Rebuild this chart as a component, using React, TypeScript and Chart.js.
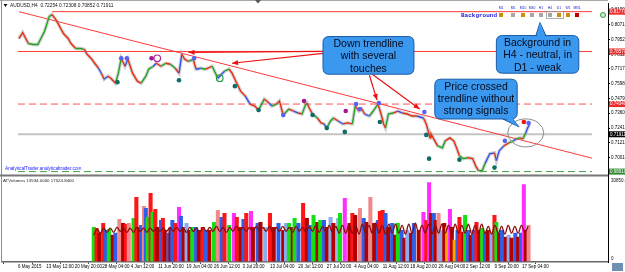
import React, { useEffect, useRef } from "react";
import { Chart, registerables } from "chart.js";

Chart.register(...registerables);

const FONT = "'Liberation Sans', Arial, sans-serif";

// ---------------- axis ticks ----------------
const xTickBars = [0, 30, 60, 89, 119, 148, 178, 207, 237, 266, 296, 326, 355, 385, 414, 444, 473, 503, 532];
const xTickLabels = [
  "6 May 2015", "13 May 12:00", "20 May 20:00", "28 May 04:00", "4 Jun 12:00", "11 Jun 20:00",
  "19 Jun 04:00", "26 Jun 12:00", "3 Jul 20:00", "13 Jul 04:00", "20 Jul 12:00", "27 Jul 20:00",
  "4 Aug 04:00", "11 Aug 12:00", "18 Aug 20:00", "26 Aug 04:00", "2 Sep 12:00", "9 Sep 20:00", "17 Sep 04:00",
];
const priceTicks = [0.81905, 0.80712, 0.7952, 0.78325, 0.7717, 0.7598, 0.7479, 0.736, 0.7241, 0.7121, 0.7001];

// ---------------- price path (bar index, price) ----------------
const priceBars = [
  1, 5, 11, 16, 21, 28, 33, 36, 40, 43,
  48, 53, 56, 61, 66, 70, 73, 78, 81, 85,
  88, 91, 95, 98, 103, 106, 109, 113, 116, 121,
  126, 130, 135, 138, 143, 146, 151, 156, 161, 166,
  170, 173, 176, 180, 185, 188, 193, 198, 205, 211,
  218, 223, 226, 230, 235, 240, 245, 250, 254, 260,
  265, 268, 273, 276, 280, 286, 291, 296, 300, 303,
  305, 308, 311, 316, 320, 323, 326, 330, 333, 338,
  343, 348, 353, 356, 360, 363, 366, 371, 375, 380,
  383, 386, 388, 391, 396, 401, 406, 411, 416, 421,
  428, 431, 435, 436, 440, 443, 448, 451, 456, 460,
  463, 466, 470, 475, 480, 483, 486, 490, 493, 498,
  503, 505, 508, 513, 518, 523, 526, 530, 533, 536,
  538, 540,
];
const priceValues = [
  0.7961, 0.8009, 0.7921, 0.7913, 0.7913, 0.8017, 0.8137, 0.8153, 0.8113, 0.8073,
  0.8001, 0.7961, 0.7921, 0.7881, 0.7881, 0.7874, 0.7834, 0.7794, 0.7762, 0.7722,
  0.7682, 0.7634, 0.7658, 0.7642, 0.7602, 0.7682, 0.7802, 0.7738, 0.7794, 0.7682,
  0.7618, 0.7602, 0.7658, 0.7714, 0.7738, 0.7762, 0.7738, 0.7762, 0.7754, 0.7722,
  0.7682, 0.7834, 0.7794, 0.7778, 0.7794, 0.7714, 0.7722, 0.7714, 0.7738, 0.7642,
  0.7698, 0.7714, 0.7682, 0.7618, 0.7538, 0.7498, 0.7434, 0.7418, 0.7386, 0.7474,
  0.7442, 0.7418, 0.7434, 0.7458, 0.7346, 0.7394, 0.7378, 0.7362, 0.7354, 0.7418,
  0.7442, 0.7394, 0.7354, 0.7322, 0.7282, 0.7274, 0.7242, 0.7298, 0.7322, 0.7298,
  0.7274, 0.7282, 0.7274, 0.7418, 0.7378, 0.7394, 0.7354, 0.7338, 0.7378, 0.7434,
  0.7362, 0.7274, 0.7242, 0.7354, 0.7362, 0.7378, 0.7362, 0.7354, 0.7338, 0.7338,
  0.7322, 0.7274, 0.7162, 0.7194, 0.7138, 0.7098, 0.7082, 0.7138, 0.7162, 0.7138,
  0.7082, 0.7018, 0.6995, 0.7002, 0.6995, 0.6939, 0.6899, 0.6899, 0.6955, 0.7034,
  0.7042, 0.6979, 0.7058, 0.7098, 0.7122, 0.7138, 0.7154, 0.7162, 0.7154, 0.7202,
  0.7242, 0.7274,
];
// trend colour of each segment: r = down, g = up, b = neutral
const priceTrend =
  "rrgggggrrr" + "rrrggrrrrb" + "rbrrggrbrr" + "rgggbrgrgr" + "brrgrbgrgb" +
  "grrrrbrrgr" + "bgrrgrbrgg" + "rrgrrbggrb" + "rrgrbrbggr" + "rrggrbrrrb" +
  "rrrrrggrrr" + "rggrrrggbb" + "rbbrgbgrgbb";

// ---------------- signal markers ----------------
const tealBars = [105, 170, 229, 254, 311, 326, 345, 382, 431, 434, 466, 503];
const tealPrices = [0.761, 0.7626, 0.7578, 0.7386, 0.7346, 0.7242, 0.721, 0.729, 0.7186, 0.6995, 0.6987, 0.6923];
const blueBars = [109, 115, 186, 280, 357, 361, 381, 429, 514, 539];
const bluePrices = [0.7802, 0.7802, 0.7802, 0.7346, 0.7434, 0.7394, 0.7442, 0.737, 0.7138, 0.7282];
const magentaBars = [141, 302, 346];
const magentaPrices = [0.7802, 0.7458, 0.7378];
const redBars = [534];
const redPrices = [0.729];
const ringBars = [147];
const ringPrices = [0.7802];
const greenRingBars = [213];
const greenRingPrices = [0.7642];

// ---------------- levels & trendline ----------------
const levelPrices = [0.8177, 0.7857, 0.7434, 0.6891];
const levelStartBars = [36, 0, 0, 0];
const bidPrice = 0.71911;
const trendBars = [1, 606];
const trendPrices = [0.8177, 0.6999];

// ---------------- volume panel ----------------
const volBars = [
  80, 83, 86, 90, 93, 96, 100, 103, 107, 111,
  114, 117, 122, 125, 128, 130, 133, 135, 137, 140,
  142, 145, 147, 151, 153, 155, 159, 161, 163, 166,
  170, 172, 175, 178, 181, 184, 188, 191, 195, 198,
  202, 207, 211, 215, 218, 223, 228, 231, 235, 238,
  241, 246, 248, 253, 256, 261, 266, 270, 275, 280,
  283, 286, 290, 292, 296, 301, 305, 308, 312, 316,
  319, 323, 326, 330, 333, 338, 340, 345, 350, 353,
  356, 361, 365, 368, 372, 376, 380, 382, 385, 388,
  391, 395, 398, 401, 405, 408, 411, 415, 418, 423,
  428, 431, 434, 436, 439, 441, 444, 446, 450, 453,
  456, 458, 461, 464, 466, 470, 472, 475, 478, 481,
  484, 487, 490, 493, 496, 500, 503, 505, 508, 511,
  515, 518, 521, 525, 528, 531, 534, 536, 539,
];
const volValues = [
  12950, 12570, 10670, 14480, 11810, 12190, 9910, 10670, 16000, 14480,
  14100, 14480, 16380, 24380, 12950, 13720, 20960, 20190, 16760, 25910,
  18670, 19810, 12950, 15620, 16380, 11810, 10670, 12570, 15620, 14480,
  20570, 17150, 12950, 14480, 11810, 12950, 12950, 11810, 12950, 11810,
  11810, 14860, 19430, 16760, 18290, 13720, 18290, 16760, 12950, 16000,
  18290, 19050, 12950, 14480, 14860, 12950, 18290, 12950, 14480, 11810,
  14480, 14480, 12950, 16380, 14480, 22100, 16380, 13720, 17530, 14860,
  15620, 15620, 12950, 16760, 14480, 16380, 18290, 24000, 14480, 18290,
  17530, 20190, 16380, 14860, 24380, 14480, 15620, 19050, 19430, 18290,
  12950, 14480, 9910, 14480, 11810, 8760, 11810, 10670, 14480, 11810,
  18670, 15620, 30100, 18290, 18290, 15620, 18290, 11810, 14480, 12950,
  19810, 12950, 8000, 11810, 16760, 11050, 17530, 11810, 9910, 11810,
  14860, 11810, 12570, 10670, 11810, 11050, 17530, 14860, 10670, 11810,
  9140, 9910, 8760, 10670, 9140, 10670, 29340, 11810, 13720,
];
const volColors =
  "GRDRBGDBPD" + "RPGRDBPBGR" + "GRDBRDBDBR" + "MBDLDGBDRB" + "DGPBRGMRDB" +
  "RMDBDLRDBD" + "LGDGBRDBGD" + "GBDLDLGMDR" + "DPBDPDBRRB" + "DBDGBDLDBD" +
  "MRMDBDPLDO" + "MDOBRDGBDB" + "RDGBDLRGDB" + "DLDBDBMDP";
const waveFirstBar = 80;
const waveStepBars = 3.5;
const waveValues = [
  9900, 12200, 10700, 12600, 11000, 12600, 11000, 12900, 11400, 12600,
  11000, 12600, 11000, 12900, 11400, 12600, 11000, 12600, 11400, 12900,
  11400, 12600, 11400, 12900, 11400, 12900, 11400, 12600, 11000, 12900,
  11400, 12600, 11000, 12900,
  11400, 12900, 11400, 13300, 11400, 12900, 11000, 12900, 11400, 13300,
  11400, 12900, 11400, 12900, 11000, 13300, 11400, 12900, 11400, 13300,
  11000, 12900, 11400, 13300, 11400, 12900, 11000, 13300, 11400, 12900,
  11000, 13300, 11400, 13700, 11000, 13300, 11000, 13700, 11000, 13300,
  10700, 13700, 10700, 14100, 10700, 13700, 10300, 14100, 10700, 13700,
  10700, 14500, 10700, 13700, 10300, 14100, 10700, 14100, 10700, 13700,
  10300, 14100, 10700, 14500, 10700, 13700, 10700, 14100, 10300, 13700,
  10700, 14100, 10700, 13700, 10300, 14100, 10700, 13700, 10700, 14100,
  10300, 13700, 10700, 14100, 10700, 13300, 10300, 13700, 10700, 13300,
  10300, 13700, 10700, 13300, 10700, 13700, 11000, 13300,
];
const volAxisTop = 30850.4;

// ---------------- texts ----------------
const titleText = "AUDUSD,H4  0.72254 0.72308 0.70852 0.71911";
const siteText = "AnalyticalTrader.analyticaltrader.com";
const volText = "ATVolumes 13534.0000 17524.8400";
const bgTitle = "Background";
const bgTimeframes = ["M1", "M5", "M15", "M30", "H1", "H4", "D1", "W1", "MN1"];
const bgStates = ["w", "n", "w", "n", "n", "n", "w", "w", "s"];

const callouts = [
  { lines: ["Down trendline", "with several", "touches"], b0: 322, b1: 418, p0: 0.7977, p1: 0.7674, tail: null as any },
  { lines: ["Background in", "H4 - neutral, in", "D1 - weak"], b0: 505, b1: 592, p0: 0.7985, p1: 0.7682, tail: { side: "top", baseBar: 552, bar: 551, price: 0.8089 } },
  { lines: ["Price crossed", "trendline without", "strong signals"], b0: 440, b1: 527, p0: 0.7634, p1: 0.7314, tail: { side: "bottom", baseBar: 517, bar: 529, price: 0.725 } },
];
const arrows = [
  { b0: 322, p0: 0.7857, b1: 180, p1: 0.785 },
  { b0: 322, p0: 0.7842, b1: 226, p1: 0.7762 },
  { b0: 371, p0: 0.7666, b1: 379, p1: 0.7466 },
  { b0: 374, p0: 0.7674, b1: 424, p1: 0.7394 },
];
const circleBar = 536;
const circlePrice = 0.7202;

// ---------------- styles ----------------
const TREND: Record<string, string> = { r: "#ee2a0c", g: "#1fa51f", b: "#3050f5" };
const VOLC: Record<string, string> = {
  D: "#b00000", R: "#ff1515", B: "#2f5fe6", L: "#8cacf0", G: "#14e014", M: "#ff30ff", P: "#f08a8a", O: "#ffa500",
};
const BG_STATE: Record<string, string> = { w: "#c8900c", n: "#a6a6a6", s: "#c00000" };

function roundRectPath(ctx: CanvasRenderingContext2D, x: number, y: number, w: number, h: number, r: number) {
  ctx.beginPath();
  ctx.moveTo(x + r, y);
  ctx.lineTo(x + w - r, y);
  ctx.quadraticCurveTo(x + w, y, x + w, y + r);
  ctx.lineTo(x + w, y + h - r);
  ctx.quadraticCurveTo(x + w, y + h, x + w - r, y + h);
  ctx.lineTo(x + r, y + h);
  ctx.quadraticCurveTo(x, y + h, x, y + h - r);
  ctx.lineTo(x, y + r);
  ctx.quadraticCurveTo(x, y, x + r, y);
  ctx.closePath();
}

function drawArrow(ctx: CanvasRenderingContext2D, x1: number, y1: number, x2: number, y2: number) {
  ctx.strokeStyle = "#ee1111";
  ctx.fillStyle = "#ee1111";
  ctx.lineWidth = 1.2;
  ctx.beginPath();
  ctx.moveTo(x1, y1);
  ctx.lineTo(x2, y2);
  ctx.stroke();
  const a = Math.atan2(y2 - y1, x2 - x1);
  const L = 6, W = 2.6;
  ctx.beginPath();
  ctx.moveTo(x2, y2);
  ctx.lineTo(x2 - L * Math.cos(a) + W * Math.sin(a), y2 - L * Math.sin(a) - W * Math.cos(a));
  ctx.lineTo(x2 - L * Math.cos(a) - W * Math.sin(a), y2 - L * Math.sin(a) + W * Math.cos(a));
  ctx.closePath();
  ctx.fill();
}

const overlayPlugin = {
  id: "mt4Overlay",
  afterDatasetsDraw(chart: any) {
    const { ctx, chartArea: a, scales } = chart;
    const X = (b: number) => scales.x.getPixelForValue(b);
    const Y = (p: number) => scales.y.getPixelForValue(p);
    const V = (v: number) => scales.yv.getPixelForValue(v);
    ctx.save();

    // ellipse around breakout
    ctx.strokeStyle = "#8c8c8c";
    ctx.lineWidth = 1;
    ctx.beginPath();
    ctx.ellipse(X(circleBar), Y(circlePrice), 18, 14, 0, 0, Math.PI * 2);
    ctx.stroke();

    arrows.forEach((ar) => drawArrow(ctx, X(ar.b0), Y(ar.p0), X(ar.b1), Y(ar.p1)));

    // callouts
    callouts.forEach((c) => {
      const x0 = X(c.b0), x1 = X(c.b1), y0 = Y(c.p0), y1 = Y(c.p1);
      ctx.fillStyle = "#3a98ee";
      ctx.strokeStyle = "#1b5aa8";
      ctx.lineWidth = 1;
      let tri: number[] | null = null;
      if (c.tail) {
        const bx = X(c.tail.baseBar);
        const ey = c.tail.side === "top" ? y0 : y1;
        tri = [bx - 5, ey, bx + 5, ey, X(c.tail.bar), Y(c.tail.price)];
        ctx.beginPath();
        ctx.moveTo(tri[0], tri[1]);
        ctx.lineTo(tri[4], tri[5]);
        ctx.lineTo(tri[2], tri[3]);
        ctx.closePath();
        ctx.fill();
        ctx.stroke();
      }
      roundRectPath(ctx, x0, y0, x1 - x0, y1 - y0, 6);
      ctx.fill();
      ctx.stroke();
      if (tri) {
        const d = c.tail.side === "top" ? 1.5 : -1.5;
        ctx.beginPath();
        ctx.moveTo(tri[0] + 0.8, tri[1] + d);
        ctx.lineTo(tri[4], tri[5]);
        ctx.lineTo(tri[2] - 0.8, tri[3] + d);
        ctx.closePath();
        ctx.fill();
      }
      ctx.fillStyle = "#050a1e";
      ctx.font = `10.5px ${FONT}`;
      ctx.textAlign = "center";
      ctx.textBaseline = "middle";
      const cx = (x0 + x1) / 2;
      c.lines.forEach((t, i) => ctx.fillText(t, cx, y0 + 7.5 + i * 12.4));
    });

    // frame / chrome
    ctx.fillStyle = "#a8a8a8";
    ctx.fillRect(0, 0, a.right, 1);
    ctx.fillStyle = "#8c8c8c";
    ctx.fillRect(1, 0, 1, a.bottom);
    ctx.fillStyle = "#777777";
    ctx.fillRect(0, 174.5, a.right, 2);
    ctx.fillStyle = "#555";
    ctx.beginPath();
    ctx.moveTo(255, 0);
    ctx.lineTo(261, 0);
    ctx.lineTo(258, 3.5);
    ctx.closePath();
    ctx.fill();

    // title
    ctx.fillStyle = "#111";
    ctx.beginPath();
    ctx.moveTo(3.5, 4);
    ctx.lineTo(7.5, 4);
    ctx.lineTo(5.5, 7);
    ctx.closePath();
    ctx.fill();
    ctx.font = `4.8px ${FONT}`;
    ctx.textAlign = "left";
    ctx.textBaseline = "middle";
    ctx.fillText(titleText, 10, 5.5);

    // site link
    ctx.fillStyle = "#1a1aff";
    ctx.font = `4.7px ${FONT}`;
    ctx.fillText(siteText, 5, 169);
    // volume caption
    ctx.fillStyle = "#222";
    ctx.font = `4.4px ${FONT}`;
    ctx.fillText(volText, 3, 181);

    // background indicator
    ctx.fillStyle = "#1a1ad8";
    ctx.font = `bold 6px 'Liberation Mono', monospace`;
    ctx.fillText(bgTitle, 461, 15);
    const sqX = [501, 513, 523, 532, 541, 550, 559, 568, 577];
    ctx.font = `3.4px ${FONT}`;
    ctx.textAlign = "center";
    bgTimeframes.forEach((tf, i) => {
      ctx.fillStyle = "#2222cc";
      ctx.fillText(tf, sqX[i], 8.5);
      ctx.fillStyle = BG_STATE[bgStates[i]];
      ctx.fillRect(sqX[i] - 2, 13, 4, 4);
    });
    ctx.strokeStyle = "#9a9a9a";
    ctx.lineWidth = 0.8;
    ctx.strokeRect(546.5, 11.5, 17, 7);
    // small status icon
    ctx.strokeStyle = "#2ea043";
    ctx.fillStyle = "#cfeccf";
    ctx.lineWidth = 1;
    ctx.beginPath();
    ctx.arc(603, 15, 2.5, 0, Math.PI * 2);
    ctx.fill();
    ctx.stroke();

    // price tags on the right axis
    const tag = (price: number, bg: string, fg: string) => {
      const y = Y(price);
      ctx.fillStyle = bg;
      ctx.fillRect(609, y - 3, 16, 6);
      ctx.fillStyle = fg;
      ctx.font = `4.5px ${FONT}`;
      ctx.textAlign = "left";
      ctx.textBaseline = "middle";
      ctx.fillText(price.toFixed(5), 610, y);
    };
    tag(levelPrices[0], "#ee2b2b", "#fff");
    tag(levelPrices[1], "#ee2b2b", "#fff");
    tag(levelPrices[2], "#ee2b2b", "#fff");
    tag(levelPrices[3], "#2e8b2e", "#fff");
    tag(bidPrice, "#000", "#fff");

    // volume axis labels
    ctx.fillStyle = "#111";
    ctx.font = `4.5px ${FONT}`;
    ctx.textAlign = "left";
    ctx.fillText(volAxisTop.toFixed(1), 611, V(volAxisTop));
    ctx.fillText("0", 611, V(0) - 2);

    // corner icon
    ctx.fillStyle = "#6f8fb5";
    ctx.fillRect(612, 263, 11, 8);
    ctx.restore();
  },
};

export default function App() {
  const ref = useRef<HTMLCanvasElement | null>(null);

  useEffect(() => {
    document.body.style.margin = "0";
    const canvas = ref.current;
    if (!canvas) return;

    const pts = (bars: number[], vals: number[]) => bars.map((b, i) => ({ x: b, y: vals[i] }));
    const pricePts = pts(priceBars, priceValues);
    const wavePts = waveValues.map((v, i) => ({ x: waveFirstBar + i * waveStepBars, y: v }));
    const volPts = pts(volBars, volValues);
    const volBg = volBars.map((_, i) => VOLC[volColors[i]] || VOLC.D);

    const marker = (bars: number[], vals: number[], color: string, r = 2.3) => ({
      type: "line" as const,
      data: pts(bars, vals),
      showLine: false,
      pointRadius: r,
      pointBackgroundColor: color,
      pointBorderWidth: 0,
      yAxisID: "y",
    });
    const ring = (bars: number[], vals: number[], color: string) => ({
      type: "line" as const,
      data: pts(bars, vals),
      showLine: false,
      pointRadius: 3.3,
      pointBackgroundColor: "rgba(0,0,0,0)",
      pointBorderColor: color,
      pointBorderWidth: 1.2,
      yAxisID: "y",
    });
    const level = (i: number, color: string, dash: number[]) => ({
      type: "line" as const,
      data: [{ x: levelStartBars[i], y: levelPrices[i] }, { x: 606, y: levelPrices[i] }],
      borderColor: color,
      borderWidth: 1,
      borderDash: dash,
      pointRadius: 0,
      yAxisID: "y",
    });

    const chart = new Chart(canvas, {
      type: "line",
      data: {
        datasets: [
          marker(tealBars, tealPrices, "#0e6e62"),
          marker(blueBars, bluePrices, "#5a62f2"),
          marker(magentaBars, magentaPrices, "#a3188f"),
          marker(redBars, redPrices, "#ee1111"),
          ring(ringBars, ringPrices, "#b0209a"),
          ring(greenRingBars, greenRingPrices, "#2a9a50"),
          {
            type: "line",
            data: pricePts,
            borderColor: TREND.r,
            borderWidth: 1.35,
            pointRadius: 0,
            tension: 0,
            yAxisID: "y",
            segment: { borderColor: (c: any) => TREND[priceTrend[c.p0DataIndex]] || TREND.r },
          },
          {
            type: "line",
            data: pricePts,
            borderColor: "rgba(150,150,150,0.45)",
            borderWidth: 3.5,
            pointRadius: 0,
            tension: 0,
            yAxisID: "y",
          },
          {
            type: "line",
            data: pts(trendBars, trendPrices),
            borderColor: "#ff3a3a",
            borderWidth: 1,
            pointRadius: 0,
            yAxisID: "y",
          },
          level(0, "#ff3a3a", []),
          level(1, "#ff3a3a", []),
          level(2, "#ff5050", [7, 4]),
          level(3, "#3f9f3f", [7, 4]),
          {
            type: "line",
            data: [{ x: 0, y: bidPrice }, { x: 606, y: bidPrice }],
            borderColor: "#c4c4c4",
            borderWidth: 2,
            pointRadius: 0,
            yAxisID: "y",
          },
          {
            type: "line",
            data: wavePts,
            borderColor: "#8a0c0c",
            borderWidth: 1.3,
            pointRadius: 0,
            tension: 0.4,
            yAxisID: "yv",
          },
          {
            type: "bar",
            data: volPts,
            backgroundColor: volBg,
            borderWidth: 0,
            barThickness: 3.4,
            yAxisID: "yv",
          },
        ] as any,
      },
      options: {
        animation: false,
        responsive: false,
        devicePixelRatio: 1,
        events: [],
        layout: { padding: { left: 2, top: 2, right: 0, bottom: 0 }, autoPadding: false },
        plugins: { legend: { display: false }, tooltip: { enabled: false } },
        scales: {
          x: {
            type: "linear",
            min: 0,
            max: 606,
            afterBuildTicks: (s: any) => {
              s.ticks = xTickBars.map((v) => ({ value: v }));
            },
            afterFit: (s: any) => {
              s.height = 10;
            },
            ticks: {
              autoSkip: false,
              maxRotation: 0,
              minRotation: 0,
              align: "start",
              padding: 0,
              color: "#000",
              font: { size: 4.5, family: FONT },
              callback: (_v: any, i: number) => xTickLabels[i] ?? "",
            },
            grid: { display: true, drawOnChartArea: false, drawTicks: true, tickLength: 2, color: "#444" },
            border: { display: true, color: "#666", width: 1.5 },
          },
          y: {
            type: "linear",
            position: "right",
            min: 0.6164,
            max: 0.8241,
            afterBuildTicks: (s: any) => {
              s.ticks = priceTicks.map((v) => ({ value: v }));
            },
            afterFit: (s: any) => {
              s.width = 17;
            },
            ticks: {
              autoSkip: false,
              padding: 1,
              color: "#000",
              font: { size: 4.5, family: FONT },
              callback: (v: any) => Number(v).toFixed(5),
            },
            grid: { display: true, drawOnChartArea: false, drawTicks: true, tickLength: 2, color: "#000" },
            border: { display: true, color: "#000", width: 1 },
          },
          yv: {
            type: "linear",
            position: "right",
            display: false,
            min: -381,
            max: 98679,
          },
        },
      } as any,
      plugins: [overlayPlugin],
    });

    return () => chart.destroy();
  }, []);

  return <canvas ref={ref} width={625} height={272} style={{ display: "block", width: 625, height: 272 }} />;
}
